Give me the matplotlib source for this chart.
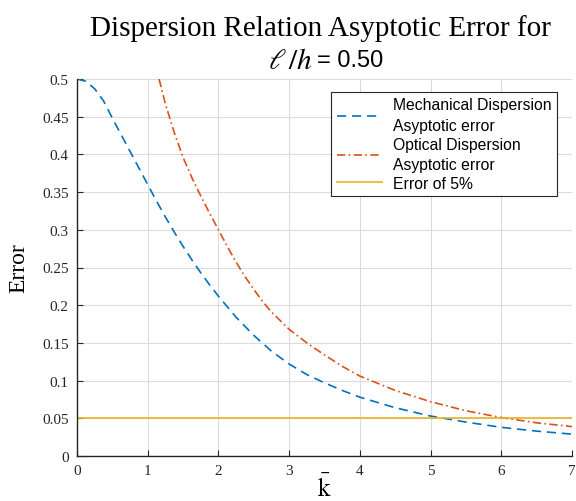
import matplotlib
matplotlib.use("Agg")
import matplotlib.pyplot as plt

plt.rcParams["mathtext.fontset"] = "stix"

# Normalised wavenumber samples and asymptotic error values
k_mech = [0.0, 0.125, 0.25, 0.375, 0.5, 0.625, 0.75, 0.875, 1.0, 1.125,
          1.25, 1.375, 1.5, 1.625, 1.75, 1.875, 2.0, 2.25, 2.5, 2.75,
          3.0, 3.25, 3.5, 3.75, 4.0, 4.5, 5.0, 5.5, 6.0, 6.5, 7.0]
err_mech = [0.500, 0.497, 0.487, 0.471, 0.448, 0.426, 0.404, 0.382, 0.360, 0.338,
            0.317, 0.297, 0.278, 0.260, 0.243, 0.227, 0.212, 0.184, 0.160, 0.139,
            0.122, 0.108, 0.097, 0.087, 0.078, 0.064, 0.053, 0.045, 0.038, 0.033, 0.029]

k_opt = [1.16, 1.25, 1.375, 1.5, 1.625, 1.75, 1.875, 2.0, 2.125, 2.25,
         2.375, 2.5, 2.625, 2.75, 3.0, 3.25, 3.5, 3.75, 4.0, 4.5,
         5.0, 5.5, 6.0, 6.5, 7.0]
err_opt = [0.500, 0.467, 0.429, 0.396, 0.369, 0.345, 0.322, 0.300, 0.278, 0.257,
           0.238, 0.221, 0.205, 0.191, 0.168, 0.150, 0.134, 0.119, 0.106, 0.087,
           0.072, 0.060, 0.051, 0.044, 0.039]

threshold = 0.05
x_range = [0, 7]

labels = ["Mechanical Dispersion\nAsyptotic error",
          "Optical Dispersion\nAsyptotic error",
          "Error of 5%"]

SERIF = "Liberation Serif"
SANS = "Liberation Sans"
AX_COLOR = "#262626"

fig = plt.figure(figsize=(5.76, 5.02), dpi=100)
ax = fig.add_axes([77 / 576, 1 - 457 / 502, (572 - 77) / 576, (457 - 80) / 502])

ax.plot(k_mech, err_mech, color="#0072BD", ls=(0, (5.5, 3.5)), lw=1.2, label=labels[0])
ax.plot(k_opt, err_opt, color="#D95319", ls=(0, (5, 2, 1, 2)), lw=1.2, label=labels[1])
ax.plot(x_range, [threshold, threshold], color="#EDB120", lw=1.2, label=labels[2])

ax.set_xlim(0, 7)
ax.set_ylim(0, 0.5)
ax.set_xticks(range(0, 8))
ax.set_yticks([i * 0.05 for i in range(11)])
ax.set_yticklabels(["0", "0.05", "0.1", "0.15", "0.2", "0.25", "0.3", "0.35",
                    "0.4", "0.45", "0.5"])

ax.grid(True, color="#dcdcdc", lw=0.8)
ax.set_axisbelow(True)
for side in ("top", "right"):
    ax.spines[side].set_visible(False)
for side in ("left", "bottom"):
    ax.spines[side].set_color(AX_COLOR)
    ax.spines[side].set_linewidth(1.0)
ax.tick_params(direction="in", length=4, width=0.8, color=AX_COLOR,
               labelcolor=AX_COLOR, labelsize=11, pad=6)
for lab in ax.get_xticklabels() + ax.get_yticklabels():
    lab.set_fontfamily(SERIF)

ax.set_ylabel("Error", fontfamily=SERIF, fontsize=17, color="black")
ax.yaxis.set_label_coords(-0.097, 0.5)
ax.set_xlabel(r"$\bar{\mathrm{k}}$", fontsize=18, color="black")
ax.xaxis.set_label_coords(0.5, -0.047)

leg = ax.legend(loc="upper right", bbox_to_anchor=(0.970, 0.966), fancybox=False,
                framealpha=1, edgecolor=AX_COLOR, handlelength=2.9,
                prop={"family": SANS, "size": 11.3}, borderpad=0.35,
                labelspacing=0.25, handletextpad=0.7, borderaxespad=0.0)
leg.get_frame().set_linewidth(0.8)
for t in leg.get_texts():
    t.set_linespacing(1.45)

fig.text(320.5 / 576, 0.943, "Dispersion Relation Asyptotic Error for",
         ha="center", va="center", fontfamily=SERIF, fontsize=21)
fig.text(312 / 576, 0.879, r"$\ell\,/h$", ha="right", va="center", fontsize=21)
fig.text(317 / 576, 0.879, "= 0.50", ha="left", va="center",
         fontfamily=SANS, fontsize=17)

fig.savefig("out.png", dpi=100)
